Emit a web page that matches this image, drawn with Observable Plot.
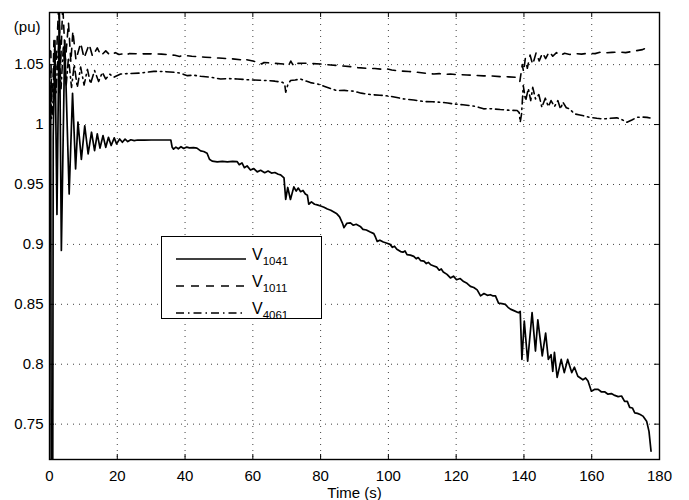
<!DOCTYPE html>
<html>
<head>
<meta charset="utf-8">
<script src="https://cdn.jsdelivr.net/npm/d3@7"></script>
<script src="https://cdn.jsdelivr.net/npm/@observablehq/plot@0.6"></script>
<style>
  body { margin: 0; background: #fff; }
  #chart { position: relative; width: 689px; height: 500px; font-family: "Liberation Sans", Arial, sans-serif; }
  .legend { position: absolute; left: 161px; top: 236px; width: 161px; height: 83px; border: 1.3px solid #000;
            background: #fff; box-sizing: border-box; }
  .legend .row { position: absolute; left: 0; height: 20px; }
  .legend svg { position: absolute; left: 13px; top: 0; }
  .legend .lab { position: absolute; left: 90px; top: -3px; font-size: 16px; white-space: nowrap; color: #000; }
  .legend .lab sub { font-size: 11.5px; vertical-align: -5px; }
</style>
</head>
<body>
<div id="chart"></div>
<script>
// Bus voltages (pu) versus time (s)
const t1041 = [0, 0.35, 0.5, 0.95, 1.1, 1.6, 2.2, 2.9, 3.5, 4.5, 5.8, 6.8, 7.7, 8.4, 9.4, 10.4, 11.4, 12.4, 13.3, 14.1,
  14.9, 15.8, 16.6, 17.4, 18.2, 19.1, 19.8, 20.7, 21.5, 22.3, 23.1, 24.0, 25, 26, 28, 30, 32, 34, 35.8, 36.2,
  36.6, 37.3, 38, 38.8, 39.6, 40.5, 41.3, 42.5, 43.5, 44.6, 45.5, 46.5, 47.2, 48, 49.5, 51, 52.5, 54, 55.4, 56,
  56.8, 57.5, 58.3, 59.3, 60.3, 61.3, 62.3, 63.5, 64.5, 65.5, 66.5, 67.5, 68.2, 69.2, 69.7, 70.3, 71.1, 72.1, 72.8, 73.4,
  74.1, 74.8, 75.5, 76.1, 76.5, 77.3, 78.2, 79, 80, 81, 82, 83, 83.9, 84.8, 85.6, 86.4, 86.9, 87.7, 88.8, 89.6,
  90.5, 91.7, 92.5, 93.5, 94.5, 95.7, 96.2, 96.7, 97.5, 98.5, 99.6, 100.5, 101.2, 101.8, 102.5, 103.6, 104.3, 104.9, 105.5, 106.5,
  107.5, 108.2, 108.8, 109.5, 110.5, 111.2, 111.8, 112.5, 113.4, 114.3, 115.0, 115.6, 116.2, 117.3,
  118.3, 119.2, 120.1, 121.2, 122.2, 123.2, 124.2, 125.2, 126.2, 127.2, 128.2,
  129.2, 130.1, 130.9, 131.6, 132.5, 133.5, 134.5, 135.3, 136, 137.2, 138.4, 138.9, 139.4, 140.1, 141.1, 142.4, 143.4, 144.1, 145.4, 146.4,
  147.2, 148.0, 148.5, 149.0, 149.8, 151.0, 151.9, 152.9, 154.1, 154.9, 155.9, 157.4, 158.2, 158.9, 159.9, 160.8, 161.9, 162.8, 163.8, 164.8,
  165.8, 166.8, 167.8, 168.8, 169.7, 170.5, 171.2, 172.0, 172.7, 173.5, 174.3, 175.1, 176.2, 176.9, 177.5];
const v1041 = [1.035, 1.03, 0.70, 0.70, 0.99, 1.07, 0.925, 1.10, 0.895, 1.07, 0.942, 1.026, 0.963, 1.002, 0.971, 0.999, 0.9756, 0.9936, 0.9783, 0.9922,
  0.9803, 0.9908, 0.981, 0.9894, 0.9825, 0.9889, 0.9839, 0.988, 0.9852, 0.9878, 0.9858, 0.9873, 0.9866, 0.9871, 0.987, 0.9871, 0.9871, 0.9871, 0.9871, 0.981,
  0.9795, 0.9812, 0.9798, 0.9815, 0.98, 0.9812, 0.9805, 0.9808, 0.9803, 0.978, 0.9775, 0.976, 0.971, 0.9695, 0.9688, 0.9692, 0.9688, 0.9693, 0.969, 0.9665,
  0.968, 0.964, 0.9655, 0.962, 0.9632, 0.9605, 0.9618, 0.9598, 0.9612, 0.9595, 0.96, 0.9585, 0.958, 0.9555, 0.9375, 0.9475, 0.9375, 0.948, 0.9445, 0.947,
  0.944, 0.945, 0.942, 0.941, 0.9335, 0.9355, 0.9335, 0.933, 0.932, 0.931, 0.9295, 0.9285, 0.927, 0.9255, 0.923, 0.918, 0.914, 0.9175, 0.918, 0.916,
  0.9168, 0.915, 0.9125, 0.912, 0.9105, 0.909, 0.906, 0.9025, 0.9035, 0.902, 0.901, 0.900, 0.8975, 0.8985, 0.896, 0.894, 0.8935, 0.8945, 0.8915, 0.891,
  0.890, 0.888, 0.889, 0.8865, 0.886, 0.884, 0.885, 0.883, 0.882, 0.881, 0.8785, 0.8795, 0.877, 0.875,
  0.872, 0.8735, 0.8705, 0.8715, 0.869, 0.8675, 0.865, 0.864, 0.862, 0.857, 0.859,
  0.8575, 0.858, 0.857, 0.857, 0.851, 0.8505, 0.85, 0.8475, 0.846, 0.8445, 0.843, 0.844, 0.804, 0.836, 0.8025, 0.843, 0.811, 0.837, 0.807, 0.826,
  0.804, 0.808, 0.794, 0.81, 0.789, 0.804, 0.793, 0.804, 0.793, 0.7975, 0.79, 0.787, 0.7885, 0.786, 0.7775, 0.779, 0.779, 0.777, 0.777, 0.775,
  0.7755, 0.774, 0.773, 0.7735, 0.769, 0.769, 0.764, 0.7635, 0.7594, 0.759, 0.758, 0.7567, 0.7525, 0.744, 0.7275];

const t1011 = [0, 0.4, 0.6, 0.95, 1.3, 1.9, 2.7, 3.3, 3.9, 4.7, 5.6, 6.3, 6.9, 7.8, 9.2, 10.2, 11.7, 12.7, 14.1, 15.2,
  16.6, 17.8, 19.5, 20.5, 22, 22.7, 23.5, 26, 30, 33, 37, 38.4, 39.2, 42, 46, 50, 54, 56.5, 57.3, 58,
  60, 62, 62.6, 63.3, 66, 69, 70.5, 71.2, 71.8, 72.4, 73.2, 75, 77, 80, 83, 86, 88.8, 91, 93.7, 96,
  98.5, 99.6, 101, 103.6, 106, 108.5, 111, 113.4, 115, 116.5, 118.3, 120.5, 123.2, 125.5, 128.1, 130.5, 133, 135.5, 138.2, 138.8,
  139.5, 139.9, 140.4, 141.0, 141.8, 142.6, 143.6, 144.5, 145.5, 146.4, 147.5, 148.5, 149.6, 150.6, 152, 153.5, 155, 157, 159, 161,
  162.5, 164, 166, 168.4, 170, 172, 173.3, 175, 176.8];
const v1011 = [1.062, 1.061, 1.02, 1.025, 1.07, 1.046, 1.10, 1.05, 1.10, 1.053, 1.085, 1.052, 1.078, 1.054, 1.068, 1.0555, 1.067, 1.057, 1.064, 1.0575,
  1.0615, 1.058, 1.06, 1.0585, 1.0592, 1.058, 1.0592, 1.059, 1.059, 1.0588, 1.0578, 1.0568, 1.0578, 1.057, 1.0562, 1.0555, 1.0548, 1.054, 1.053, 1.0542,
  1.053, 1.0518, 1.0505, 1.0518, 1.0512, 1.0505, 1.049, 1.053, 1.05, 1.0525, 1.051, 1.0512, 1.051, 1.0505, 1.0497, 1.049, 1.0483, 1.0475, 1.0469, 1.0468,
  1.046, 1.0464, 1.0455, 1.0447, 1.0443, 1.0436, 1.0428, 1.0422, 1.0425, 1.0418, 1.0422, 1.0416, 1.0414, 1.041, 1.0406, 1.0405, 1.04, 1.0398, 1.0394, 1.036,
  1.05, 1.044, 1.055, 1.047, 1.058, 1.05, 1.06, 1.053, 1.06, 1.055, 1.061, 1.057, 1.06, 1.0575, 1.0595, 1.0585, 1.0592, 1.0588, 1.0595, 1.0592,
  1.0603, 1.0598, 1.0602, 1.0605, 1.06, 1.061, 1.0617, 1.0625, 1.065];

const t4061 = [0, 0.4, 0.6, 0.95, 1.3, 1.9, 2.7, 3.4, 4.1, 4.9, 5.6, 6.5, 7.3, 8.2, 9.2, 10.2, 11.2, 12.1, 13.3, 14.5,
  15.6, 16.6, 17.8, 19, 21, 23, 26.9, 30.8, 34, 36.7, 38.5, 40.7, 42.5, 44.6, 47.5, 50.5, 53, 55.4, 57.5, 59.3,
  62, 64.3, 66.5, 68.7, 69.4, 69.7, 70.3, 71.1, 72.5, 74.1, 75.5, 77, 79, 81, 83, 84.9, 87, 89.8, 92, 94.7,
  97.5, 100.6, 102.5, 104.5, 107.5, 110.4, 113, 115.4, 117.5, 119.3, 122, 124.2, 126, 128.1, 130.5, 133, 135.5, 138, 138.6, 138.9,
  139.3, 139.8, 140.5, 141.3, 142.0, 142.6, 143.4, 144.4, 145.3, 146.3, 147.2, 148.0, 149.0, 150.0, 150.8, 151.5, 152.5, 153.5, 154.9, 156.5,
  158, 159.4, 161.5, 163.5, 165.5, 167.4, 169, 170.4, 172, 173.3, 175, 176.3, 177.2];
const v4061 = [1.045, 1.044, 1.005, 1.012, 1.05, 1.025, 1.068, 1.03, 1.066, 1.032, 1.056, 1.031, 1.05, 1.031, 1.048, 1.033, 1.046, 1.034, 1.045, 1.036,
  1.0435, 1.038, 1.042, 1.0395, 1.0422, 1.0425, 1.043, 1.0444, 1.0442, 1.0436, 1.043, 1.0408, 1.0412, 1.0403, 1.0395, 1.038, 1.0383, 1.038, 1.0376, 1.0372,
  1.037, 1.0367, 1.0362, 1.0353, 1.034, 1.027, 1.033, 1.0367, 1.0372, 1.038, 1.0365, 1.035, 1.034, 1.032, 1.03, 1.0283, 1.0285, 1.0278, 1.0262, 1.025,
  1.0245, 1.0236, 1.0225, 1.0214, 1.0205, 1.0192, 1.019, 1.0186, 1.018, 1.0172, 1.0165, 1.0158, 1.015, 1.0131, 1.0132, 1.0125, 1.012, 1.0117, 1.01, 1.002,
  1.009, 1.0325, 1.02, 1.03, 1.02, 1.031, 1.0214, 1.025, 1.0144, 1.022, 1.015, 1.02, 1.015, 1.02, 1.013, 1.0186, 1.014, 1.013, 1.0089, 1.008,
  1.007, 1.006, 1.0052, 1.0047, 1.0052, 1.0056, 1.004, 1.0019, 1.004, 1.006, 1.0062, 1.006, 1.0055];

const xTicks = [0, 20, 40, 60, 80, 100, 120, 140, 160, 180];
const yTicks = [0.75, 0.8, 0.85, 0.9, 0.95, 1, 1.05];
const yTickLabels = ["0.75", "0.8", "0.85", "0.9", "0.95", "1", "1.05"];
const seriesNames = ["1041", "1011", "4061"];

const rows = (t, v) => t.map((x, i) => ({t: x, v: v[i]}));

const W = 689, H = 500;
const mTop = 12, mBottom = 41, mLeft = 49, mRight = 30;
const innerH = H - mTop - mBottom, innerW = W - mLeft - mRight;
const tick = 5;

const dashed = "8,7";
const dashDot = "8,4,1.5,4";

const chart = Plot.plot({
  width: W, height: H,
  marginTop: mTop, marginBottom: mBottom, marginLeft: mLeft, marginRight: mRight,
  style: {fontFamily: "'Liberation Sans', Arial, sans-serif", fontSize: "15px", color: "#000", background: "#fff"},
  x: {domain: [0, 180]},
  y: {domain: [0.7205, 1.0935]},
  marks: [
    Plot.gridX(xTicks, {stroke: "#000", strokeOpacity: 0.75, strokeDasharray: "1,5"}),
    Plot.gridY(yTicks, {stroke: "#000", strokeOpacity: 0.75, strokeDasharray: "1,5"}),
    // inward tick marks on all four sides
    Plot.ruleX(xTicks, {stroke: "#000", insetTop: innerH - tick}),
    Plot.ruleX(xTicks, {stroke: "#000", insetBottom: innerH - tick}),
    Plot.ruleY(yTicks, {stroke: "#000", insetRight: innerW - tick}),
    Plot.ruleY(yTicks, {stroke: "#000", insetLeft: innerW - tick}),
    Plot.line(rows(t1041, v1041), {x: "t", y: "v", stroke: "#000", strokeWidth: 1.7, clip: true}),
    Plot.line(rows(t1011, v1011), {x: "t", y: "v", stroke: "#000", strokeWidth: 1.6, strokeDasharray: dashed, clip: true}),
    Plot.line(rows(t4061, v4061), {x: "t", y: "v", stroke: "#000", strokeWidth: 1.6, strokeDasharray: dashDot, clip: true}),
    Plot.frame({stroke: "#000", strokeWidth: 1.4}),
    Plot.axisX(xTicks, {anchor: "bottom", tickSize: 0, tickPadding: 11, label: "Time (s)", labelAnchor: "center", labelArrow: "none", labelOffset: 38}),
    Plot.axisY(yTicks, {anchor: "left", tickSize: 0, tickPadding: 6, label: null, tickFormat: d => yTickLabels[yTicks.indexOf(d)]}),
    Plot.text(["(pu)"], {frameAnchor: "top-left", textAnchor: "end", dx: -9, dy: 9, fontSize: 15})
  ]
});

const root = document.getElementById("chart");
root.appendChild(chart);

// legend box inside the axes
const legend = document.createElement("div");
legend.className = "legend";
const styles = [null, dashed, dashDot];
seriesNames.forEach((name, i) => {
  const row = document.createElement("div");
  row.className = "row";
  row.style.top = (12 + i * 27) + "px";
  row.style.width = "100%";
  const svg = d3.create("svg").attr("width", 72).attr("height", 20);
  svg.append("line").attr("x1", 1).attr("x2", 71).attr("y1", 10).attr("y2", 10)
    .attr("stroke", "#000").attr("stroke-width", 1.6)
    .attr("stroke-dasharray", styles[i]);
  row.appendChild(svg.node());
  const lab = document.createElement("div");
  lab.className = "lab";
  lab.innerHTML = "V<sub>" + name + "</sub>";
  row.appendChild(lab);
  legend.appendChild(row);
});
root.appendChild(legend);
</script>
</body>
</html>
